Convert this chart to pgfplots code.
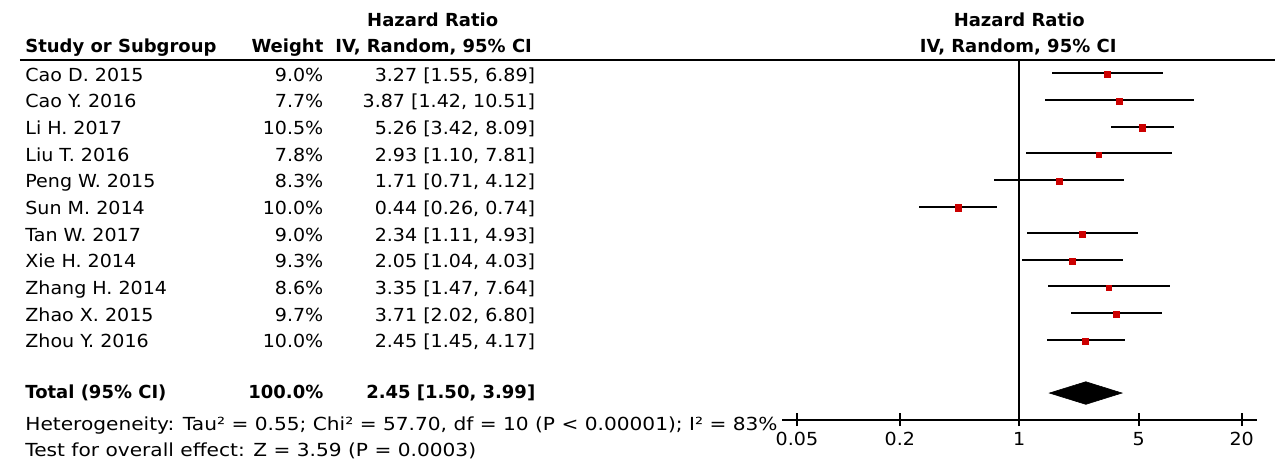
\documentclass[border=0pt]{standalone}
\usepackage{fontspec}
\setmainfont{DejaVu Sans}
\newfontfamily\widefont[FakeStretch=1.06]{DejaVu Sans}
\newfontfamily\widerfont[FakeStretch=1.12]{DejaVu Sans}
\usepackage{pgfplots}
\usepackage{pgfplotstable}
\pgfplotsset{compat=1.18}
\definecolor{hrred}{RGB}{204,0,0}

% row = -(line number in the forest table)
\pgfplotstableread{
row   hr    lo    hi     w
-1    3.27  1.55  6.89   9.0
-2    3.87  1.42  10.51  7.7
-3    5.26  3.42  8.09   10.5
-4    2.93  1.10  7.81   7.8
-5    1.71  0.71  4.12   8.3
-6    0.44  0.26  0.74   10.0
-7    2.34  1.11  4.93   9.0
-8    2.05  1.04  4.03   9.3
-9    3.35  1.47  7.64   8.6
-10   3.71  2.02  6.80   9.7
-11   2.45  1.45  4.17   10.0
}\studies

\begin{document}
\fontsize{9pt}{11pt}\selectfont
\begin{tikzpicture}
\begin{scope}[x=0.5pt, y=-0.5pt]
  \useasboundingbox (0,0) rectangle (1276,463);
\end{scope}

\begin{axis}[
    at={(391.5pt,-210pt)}, anchor=south west,
    scale only axis, width=237.5pt, height=180pt,
    xmode=log, xmin=0.0411, xmax=24.6,
    ymin=-14, ymax=-0.5,
    axis x line*=bottom, axis y line=none,
    axis line style={line width=1pt},
    xtick={0.05,0.2,1,5,20},
    xticklabels={0.05,0.2,1,5,20},
    minor tick length=0pt,
    xtick align=center,
    major tick length=6.5pt,
    tick style={black, line width=1pt},
    xticklabel style={font=\widefont\fontsize{9pt}{11pt}\selectfont},
    /pgf/number format/assume math mode=true,
    clip=false,
  ]
  % line of no effect
  \addplot[black, line width=1pt] coordinates {(1,-0.5) (1,-14)};

  % studies: CI and weighted square
  \addplot[only marks, mark=square*, scatter,
      scatter/use mapped color={draw=hrred, fill=hrred},
      mark options={line width=0pt, yshift=-0.8pt},
      visualization depends on={0.5*sqrt(\thisrow{w}) \as \msz},
      scatter/@pre marker code/.append style={/tikz/mark size=\msz},
      error bars/.cd, x dir=both, x explicit, error mark=none,
      error bar style={black, line width=1pt}]
    table[x=hr, y=row,
      x error plus expr=\thisrow{hi}-\thisrow{hr},
      x error minus expr=\thisrow{hr}-\thisrow{lo}] {\studies};

  % pooled estimate
  \addplot[fill=black, draw=black, line width=0.3pt]
    coordinates {(1.50,-13) (2.45,-12.576) (3.99,-13) (2.45,-13.424)} -- cycle;
\end{axis}

\begin{scope}[x=0.5pt, y=-0.5pt, every node/.style={inner sep=0pt}]
  \draw[line width=1pt] (20,60) -- (1276,60);

  \node[anchor=base] at (433,27) {\textbf{Hazard Ratio}};
  \node[anchor=base west] at (25,52.3) {\textbf{Study or Subgroup}};
  \node[anchor=base east] at (324,52.3) {\textbf{Weight}};
  \node[anchor=base] at (434,52.3) {\textbf{IV, Random, 95\% CI}};
  \node[anchor=base] at (1020,27) {\textbf{Hazard Ratio}};
  \node[anchor=base] at (1019,52.3) {\textbf{IV, Random, 95\% CI}};

  \foreach \n/\w/\h [count=\i] in {
      {Cao D. 2015}/{9.0\%}/{3.27 [1.55, 6.89]},
      {Cao Y. 2016}/{7.7\%}/{3.87 [1.42, 10.51]},
      {Li H. 2017}/{10.5\%}/{5.26 [3.42, 8.09]},
      {Liu T. 2016}/{7.8\%}/{2.93 [1.10, 7.81]},
      {Peng W. 2015}/{8.3\%}/{1.71 [0.71, 4.12]},
      {Sun M. 2014}/{10.0\%}/{0.44 [0.26, 0.74]},
      {Tan W. 2017}/{9.0\%}/{2.34 [1.11, 4.93]},
      {Xie H. 2014}/{9.3\%}/{2.05 [1.04, 4.03]},
      {Zhang H. 2014}/{8.6\%}/{3.35 [1.47, 7.64]},
      {Zhao X. 2015}/{9.7\%}/{3.71 [2.02, 6.80]},
      {Zhou Y. 2016}/{10.0\%}/{2.45 [1.45, 4.17]}} {
    \pgfmathsetmacro\by{73.3+26.67*(\i-1)+8}
    \node[anchor=base west] at (25,\by) {\widefont\n};
    \node[anchor=base east] at (324,\by) {\widefont\w};
    \node[anchor=base east] at (536,\by) {\widefont\h};
  }

  \node[anchor=base west] at (25,399) {\textbf{Total (95\% CI)}};
  \node[anchor=base east] at (324,399) {\textbf{100.0\%}};
  \node[anchor=base east] at (536,399) {\textbf{2.45 [1.50, 3.99]}};
  \node[anchor=base west] at (25,431) {\widerfont Heterogeneity: Tau² = 0.55; Chi² = 57.70, df = 10 (P < 0.00001); I² = 83\%};
  \node[anchor=base west] at (25,457) {\widerfont Test for overall effect: Z = 3.59 (P = 0.0003)};
\end{scope}
\end{tikzpicture}
\end{document}
